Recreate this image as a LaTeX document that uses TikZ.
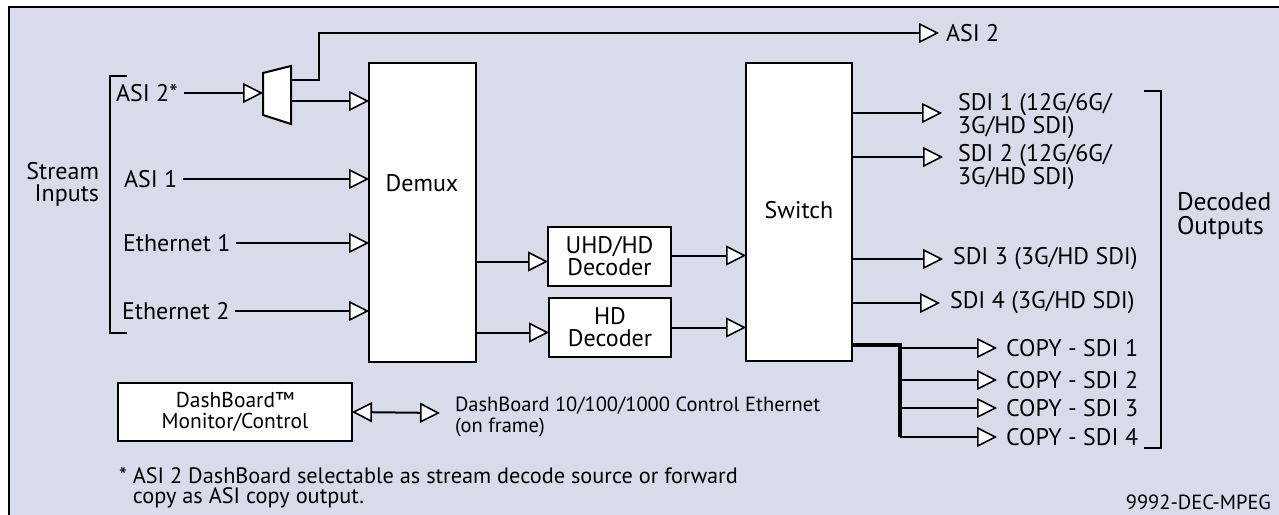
\documentclass[tikz,border=0pt]{standalone}
\usepackage{fontspec}
\setmainfont{PT Sans}
\usetikzlibrary{arrows.meta,calc}
\definecolor{bg}{RGB}{216,220,234}
\begin{document}
\begin{tikzpicture}[x=1pt,y=-1pt,line width=2pt,
  arr/.style={-{Triangle[length=20pt,width=20pt,fill=white,line width=1.6pt]}},
  darr/.style={{Triangle[length=20pt,width=20pt,fill=white,line width=1.6pt]}-{Triangle[length=20pt,width=20pt,fill=white,line width=1.6pt]}},
  big/.style={font=\fontsize{24}{22}\selectfont},
  mid/.style={font=\fontsize{21.5}{21}\selectfont},
  box/.style={draw,fill=white,inner sep=0pt,outer sep=0pt,align=center,big},
  lbl/.style={inner sep=0pt,outer sep=0pt,align=left,big},
  bus/.style={line width=3.5pt},
]
\useasboundingbox (0,0) rectangle (1279,514);
\fill[bg] (9,7) rectangle (1290,520);
\draw (9,520) -- (9,7) -- (1290,7);

% main blocks
\node[box,minimum width=107pt,minimum height=299pt] (demux) at (422.5,212.5) {};
\node[lbl] (demuxt) at (422,183) {Demux};
\node[box,minimum width=106pt,minimum height=298pt] (switch) at (799,212) {};
\node[lbl] (switcht) at (799,210) {Switch};
\node[box,minimum width=123pt,minimum height=59pt] (uhd) at (609.5,256.5) {UHD/HD\\Decoder};
\node[box,minimum width=122pt,minimum height=59pt] (hd) at (610,327.5) {HD\\Decoder};
\node[box,mid,minimum width=234pt,minimum height=58pt] (dash) at (235,412) {DashBoard™\\Monitor/Control};

% mux
\draw[fill=white] (263,73) -- (291,66) -- (291,124) -- (263,115) -- cycle;
\coordinate (muxin) at (263,93);
\coordinate (muxo1) at (291,80);
\coordinate (muxo2) at (291,101);

% input labels
\node[lbl,anchor=west] (asi2in) at (116,93) {ASI 2*};
\node[lbl,anchor=west] (asi1) at (124,179) {ASI 1};
\node[lbl,anchor=west] (eth1) at (123,243) {Ethernet 1};
\node[lbl,anchor=west] (eth2) at (122,311) {Ethernet 2};
\node[lbl,anchor=east,align=right] (stream) at (99,184) {Stream\\Inputs};
\draw (127,76) -- (110,76) -- (110,333) -- (127,333);

\draw[arr] ([xshift=6pt]asi2in.east) -- (muxin);
\draw[arr] (muxo2) -- (muxo2 -| demux.west);
\coordinate (asi2tip) at (939,33);
\draw[arr] (muxo1) -- (319,80) |- (asi2tip);
\node[lbl,anchor=west] (asi2out) at (946,33) {ASI 2};
\draw[arr] ([xshift=6pt]asi1.east) -- (asi1.east -| demux.west);
\draw[arr] ([xshift=6pt]eth1.east) -- (eth1.east -| demux.west);
\draw[arr] ([xshift=6pt]eth2.east) -- (eth2.east -| demux.west);

% demux to decoders
\draw[arr] ($(demux.east |- uhd.west)+(0,5)$) -- ($(uhd.west)+(0,5)$);
\draw[arr] ($(demux.east |- hd.west)+(0,5)$) -- ($(hd.west)+(0,5)$);
\draw[arr] ($(uhd.east)+(0,-1)$) -- ($(switch.west |- uhd.east)+(0,-1)$);
\draw[arr] (hd.east) -- (switch.west |- hd.east);

% outputs
\coordinate (sdi1tip) at (942,113);
\coordinate (sdi2tip) at (943,157);
\coordinate (sdi3tip) at (943,259);
\coordinate (sdi4tip) at (940,303);
\draw[arr] (switch.east |- sdi1tip) -- (sdi1tip);
\draw[arr] (switch.east |- sdi2tip) -- (sdi2tip);
\draw[arr] (switch.east |- sdi3tip) -- (sdi3tip);
\draw[arr] (switch.east |- sdi4tip) -- (sdi4tip);
\node[lbl,anchor=west] (sdi1) at (958,116) {SDI 1 (12G/6G/\\3G/HD SDI)};
\node[lbl,anchor=west] (sdi2) at (958,167) {SDI 2 (12G/6G/\\3G/HD SDI)};
\node[lbl,anchor=west] (sdi3) at (953,259) {SDI 3 (3G/HD SDI)};
\node[lbl,anchor=west] (sdi4) at (950,303) {SDI 4 (3G/HD SDI)};

% copy outputs
\coordinate (cj) at (900,345);
\coordinate (cb) at (900,437);
\draw[bus] (switch.east |- cj) -- (cj) -- (cb);
\foreach \i/\y in {1/348,2/380,3/408,4/437}{
  \coordinate (c\i tip) at (997,\y);
  \draw[arr] (cj |- c\i tip) -- (c\i tip);
  \node[lbl,anchor=west] (copy\i) at (1006,\y) {COPY - SDI \i};
}

\draw (1144,91) -- (1161,91) -- (1161,448) -- (1144,448);
\node[lbl,anchor=west,font=\fontsize{25.5}{24}\selectfont] (decoded) at (1177,216) {Decoded\\Outputs};

% dashboard
\coordinate (dashtip) at (440,413);
\draw[darr] (dash.east) -- (dashtip);
\node[lbl,anchor=west,font=\fontsize{20.5}{21}\selectfont] (dashlbl) at (455,417) {DashBoard 10/100/1000 Control Ethernet\\(on frame)};

\node[lbl,anchor=west,font=\fontsize{22.3}{20}\selectfont] (note) at (119,488) {* ASI 2 DashBoard selectable as stream decode source or forward\\\hphantom{* }copy as ASI copy output.};
\node[lbl,anchor=east,font=\fontsize{20.5}{20}\selectfont] (code) at (1271,502) {9992-DEC-MPEG};
\end{tikzpicture}
\end{document}
